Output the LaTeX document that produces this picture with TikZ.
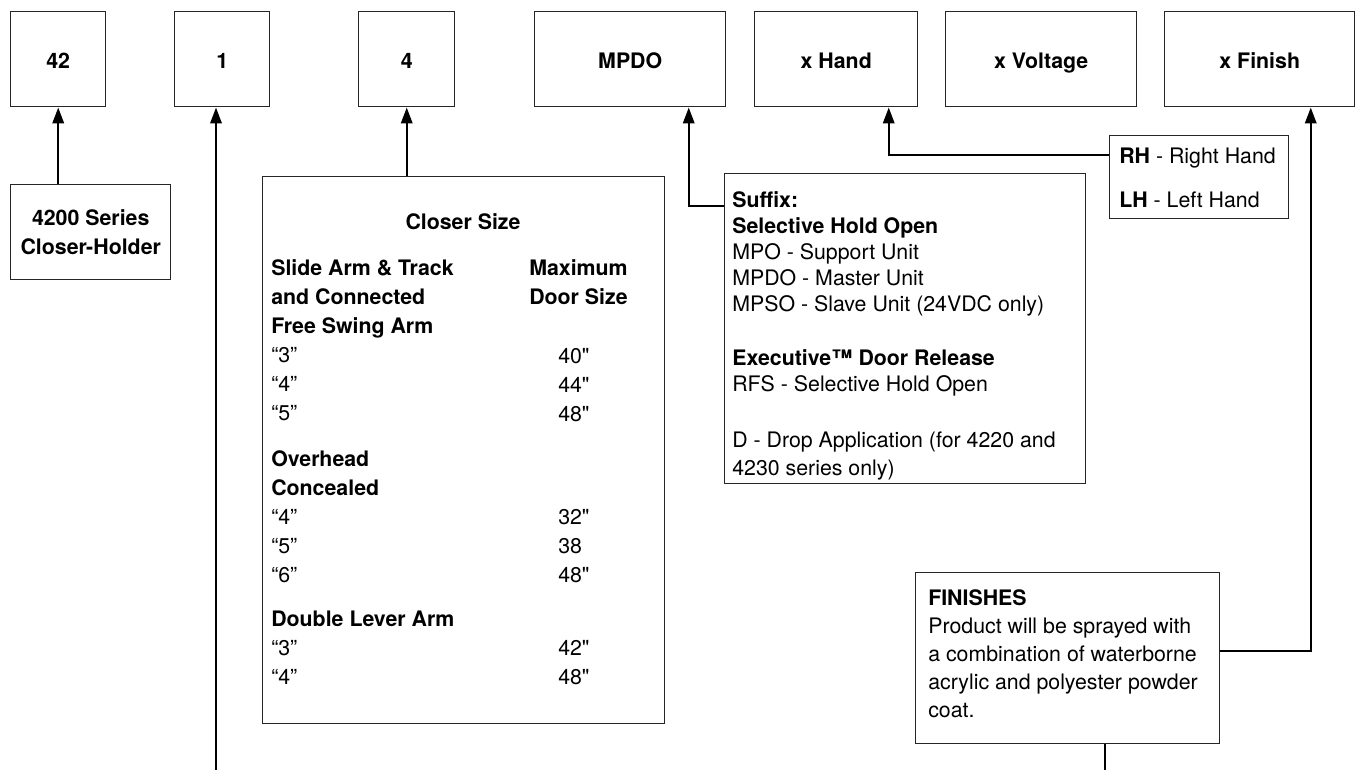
\documentclass[tikz,border=0pt]{standalone}
\usepackage{fontspec}
\setmainfont{TeX Gyre Heros}
\newfontfamily\inchfont{TeX Gyre Heros}
\newcommand{\inch}{{\inchfont\symbol{34}}}
\usetikzlibrary{arrows.meta,calc}

\tikzset{
  box/.style 2 args={draw=black!85, line width=1.1pt, rectangle, anchor=north west,
    inner sep=0pt, minimum width=#1*0.75pt, minimum height=#2*0.75pt,
    font=\fontsize{16}{21.75}\selectfont\bfseries, align=center},
  codebox/.style 2 args={box={#1}{#2}, text height=14pt, text depth=0pt},
  txt/.style={anchor=north west, inner sep=0pt, align=left,
    font=\fontsize{16}{21.75}\selectfont},
  head/.style={inner sep=0pt, font=\fontsize{16}{21.75}\selectfont\bfseries},
  conn/.style={line width=1.8pt, -{Triangle[length=12pt,width=8.5pt]}},
  link/.style={line width=1.8pt},
}

\begin{document}
\begin{tikzpicture}[x=0.75pt,y=0.75pt,yscale=-1,xscale=1]
\useasboundingbox (0,0) rectangle (1355,770);
% top row of code boxes
\node[codebox={95}{95}] (b42) at (10,11) {42};
\node[codebox={95}{95}] (b1) at (174,11) {1};
\node[codebox={96}{95}] (b4) at (358,11) {4};
\node[codebox={191}{95}] (bmpdo) at (534,11) {MPDO};
\node[codebox={163}{95}] (bhand) at (754,11) {x Hand};
\node[codebox={191}{95}] (bvolt) at (945,11) {x Voltage};
\node[codebox={190}{95}] (bfinish) at (1164,11) {x Finish};
% series
\node[box={160}{95}] (bseries) at (10,184) {4200 Series\\Closer-Holder};
% closer size
\node[box={402}{547}] (closer) at (262,176) {};
\node[head] (closerHead) at (463,222) {Closer Size};
\node[txt] (armA) at (271,259) {\textbf{Slide Arm \& Track}\\\textbf{and Connected}\\\textbf{Free Swing Arm}\\“3”\\“4”\\“5”};
\node[txt] (armB) at (271,450) {\textbf{Overhead}\\\textbf{Concealed}\\“4”\\“5”\\“6”};
\node[txt] (armC) at (271,611) {\textbf{Double Lever Arm}\\“3”\\“4”};
\node[txt] (doorHead) at (529,259) {\textbf{Maximum}\\\textbf{Door Size}};
\node[txt] (doorA) at (558,348) {40\inch\\44\inch\\48\inch};
\node[txt] (doorB) at (558,509) {32\inch\\38\\48\inch};
\node[txt] (doorC) at (558,640) {42\inch\\48\inch};
% suffix
\node[box={361}{310}] (suffix) at (724,173) {};
\node[txt, font=\fontsize{16}{19.5}\selectfont] (sufA) at (732,191) {\textbf{Suffix:}\\\textbf{Selective Hold Open}\\MPO - Support Unit\\MPDO - Master Unit\\MPSO - Slave Unit (24VDC only)};
\node[txt, font=\fontsize{16}{19.5}\selectfont] (sufB) at (732,349) {\textbf{Executive™ Door Release}\\RFS - Selective Hold Open};
\node[txt, font=\fontsize{16}{21}\selectfont] (sufC) at (732,432) {D - Drop Application (for 4220 and\\4230 series only)};
% hand
\node[box={179}{83}] (rh) at (1109,135) {};
\node[txt, font=\fontsize{16}{33}\selectfont] (rhT) at (1119,148) {\textbf{RH} - Right Hand\\\textbf{LH} - Left Hand};
% finishes
\node[box={304}{171}] (fin) at (915,572) {};
\node[txt, font=\fontsize{16}{21.15}\selectfont] (finT) at (928,589) {\textbf{FINISHES}\\Product will be sprayed with\\a combination of waterborne\\acrylic and polyester powder\\coat.};
% connectors
\draw[conn] (bseries.north -| b42.south) -- (b42.south);
\coordinate (oneEnd) at (216,770);
\draw[conn] (oneEnd) -- (oneEnd |- b1.south);
\draw[conn] (closer.north -| b4.south) -- (b4.south);
\draw[conn] (suffix.west |- 0,206) -| ($(bmpdo.south)+(58.5,0)$);
\draw[conn] (rh.west |- 0,155) -| ($(bhand.south)+(52.5,0)$);
\draw[conn] (fin.east |- 0,651) -| ($(bfinish.south)+(51,0)$);
\coordinate (finEnd) at (1105,770);
\draw[link] (finEnd |- fin.south) -- (finEnd);
\end{tikzpicture}
\end{document}
